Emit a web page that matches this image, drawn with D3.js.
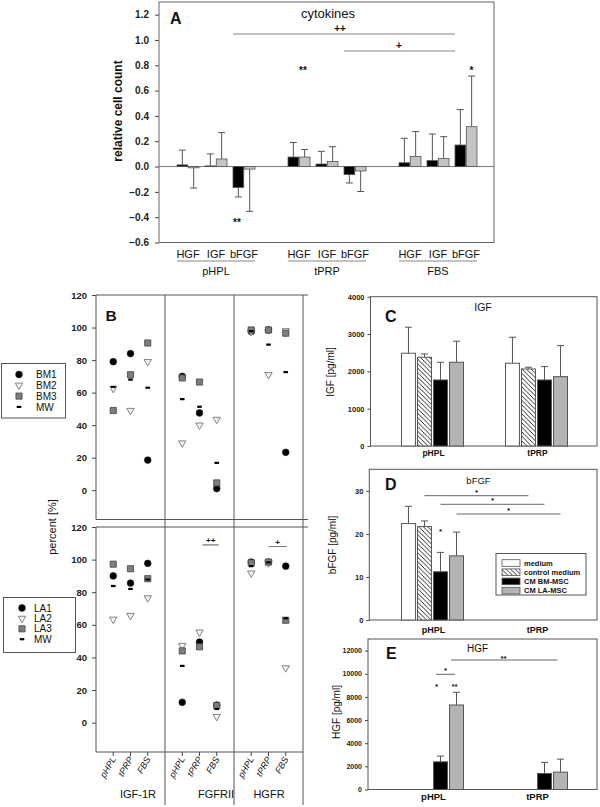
<!DOCTYPE html>
<html><head><meta charset="utf-8">
<script src="https://cdn.jsdelivr.net/npm/d3@7/dist/d3.min.js"></script>
<style>body{margin:0;background:#fff} svg{display:block}</style>
</head><body><svg id="c" width="600" height="807"></svg>
<script>
// ---------------- DATA ----------------
// Panel A: relative cell count
const mediaA = ["pHPL", "tPRP", "FBS"];
const cytokinesA = ["HGF", "IGF", "bFGF"];
const seriesA = ["BM", "LA"];
const ticksA = [-0.6, -0.4, -0.2, 0, 0.2, 0.4, 0.6, 0.8, 1.0, 1.2];
const meanBM_A = [[0.013, 0.005, -0.165], [0.075, 0.02, -0.063], [0.03, 0.047, 0.17]];
const errBM_A  = [[0.117, 0.095, 0.075], [0.115, 0.10, 0.067], [0.193, 0.21, 0.28]];
const meanLA_A = [[-0.01, 0.06, -0.02], [0.075, 0.04, -0.035], [0.079, 0.063, 0.315]];
const errLA_A  = [[0.16, 0.208, 0.334], [0.06, 0.117, 0.162], [0.197, 0.173, 0.40]];

// Panel B: percent
const receptors = ["IGF-1R", "FGFRII", "HGFR"];
const mediaB = ["pHPL", "tPRP", "FBS"];
const ticksB = [0, 20, 40, 60, 80, 100, 120];
const BM1 = [[79, 84, 18.5], [70, 47.5, 1], [97.5, 98.5, 23.3]];
const BM2 = [[62.5, 49, 79], [29, 40, 43.5], [97.5, 71, 98]];
const BM3 = [[49, 71, 90.5], [69, 66.5, 4.5], [98.5, 98.5, 96.5]];
const BM_MW = [[63.5, 68, 63], [56, 51.3, 16.8], [97.8, 89.5, 72.6]];
const LA1 = [[90, 85.6, 97.7], [12.5, 49.4, 10.8], [98.5, 98.5, 96]];
const LA2 = [[63.4, 65.7, 76.5], [47.3, 55.5, 3.7], [91.7, 98, 33.6]];
const LA3 = [[97.2, 94.4, 88.3], [44, 46.5, 10.5], [98, 98.5, 62.8]];
const LA_MW = [[83.8, 82, 87.8], [34.8, 50.5, 8.4], [96, 98.3, 64]];

// Panels C, D, E
const groupsCDE = ["pHPL", "tPRP"];
const conditions = ["medium", "control medium", "CM BM-MSC", "CM LA-MSC"];
const ticksC = [0, 1000, 2000, 3000, 4000];
const igfMean = [[2485, 2378, 1769, 2244], [2217, 2064, 1769, 1858]];
const igfErr  = [[697, 88, 475, 563], [697, 46, 358, 832]];
const ticksD = [0, 10, 20, 30];
const bfgfMean = [[22.4, 21.7, 11.2, 14.9], [null, null, null, null]];
const bfgfErr  = [[4.0, 1.3, 4.5, 5.5], [null, null, null, null]];
const ticksE = [0, 2000, 4000, 6000, 8000, 10000, 12000];
const hgfMean = [[null, null, 2390, 7299], [null, null, 1385, 1500]];
const hgfErr  = [[null, null, 493, 1099], [null, null, 953, 1123]];

// ---------------- DRAWING ----------------
const FONT = '"Liberation Sans", Arial, Helvetica, sans-serif';
const svg = d3.select("#c");
const defs = svg.append("defs");
const pat = defs.append("pattern").attr("id", "hatch").attr("patternUnits", "userSpaceOnUse")
  .attr("width", 4.5).attr("height", 4.5);
pat.append("rect").attr("width", 4.5).attr("height", 4.5).attr("fill", "#fff");
pat.append("path").attr("d", "M-1,-1 L5.5,5.5 M-1,3.5 L1,5.5 M3.5,-1 L5.5,1")
  .attr("stroke", "#111").attr("stroke-width", 0.9);

function txt(g, x, y, s, size, opts = {}) {
  return g.append("text").attr("x", x).attr("y", y).text(s)
    .attr("font-family", FONT).attr("font-size", size)
    .attr("font-weight", opts.bold ? "bold" : "normal")
    .attr("font-style", opts.italic ? "italic" : "normal")
    .attr("text-anchor", opts.anchor || "start")
    .attr("fill", opts.fill || "#111");
}
function line(g, x1, y1, x2, y2, color = "#555", w = 1) {
  return g.append("line").attr("x1", x1).attr("y1", y1).attr("x2", x2).attr("y2", y2)
    .attr("stroke", color).attr("stroke-width", w);
}
function styleAxis(g, size, bold) {
  g.select(".domain").remove();
  g.attr("font-family", FONT);
  g.selectAll(".tick line").attr("stroke", "#444");
  g.selectAll(".tick text").attr("font-size", size).attr("font-weight", bold ? "bold" : "normal").attr("fill", "#222");
}

// ======== Panel A ========
{
  const g = svg.append("g");
  const L = 159, R = 494, T = 2, B = 242.5;
  const y = d3.scaleLinear().domain([-0.6, 1.3]).range([B, T]);
  const xm = d3.scalePoint().domain(mediaA).range([216, 438]);
  const xc = d3.scalePoint().domain(cytokinesA).range([-28, 28]);
  const xs = d3.scaleBand().domain(seriesA).range([-11, 11]).paddingInner(0.05);
  const ax = g.append("g").attr("transform", `translate(${L},0)`)
    .call(d3.axisLeft(y).tickValues(ticksA).tickFormat(d3.format(".1f")).tickSize(4).tickPadding(6));
  styleAxis(ax, 10, true);
  g.append("rect").attr("x", L).attr("y", T).attr("width", R - L).attr("height", B - T)
    .attr("fill", "none").attr("stroke", "#666");
  line(g, L, y(0), R, y(0), "#777");
  const bars = [];
  mediaA.forEach((m, i) => cytokinesA.forEach((c, j) => {
    bars.push({m, c, s: "BM", v: meanBM_A[i][j], e: errBM_A[i][j]});
    bars.push({m, c, s: "LA", v: meanLA_A[i][j], e: errLA_A[i][j]});
  }));
  bars.forEach(d => {
    const x0 = xm(d.m) + xc(d.c) + xs(d.s), w = xs.bandwidth(), cx = x0 + w / 2;
    const sgn = d.v < 0 ? -1 : 1;
    const yTip = y(d.v + sgn * d.e);
    line(g, cx, y(d.v), cx, yTip, "#555");
    line(g, cx - 3.5, yTip, cx + 3.5, yTip, "#555");
    g.append("rect").attr("x", x0).attr("y", Math.min(y(d.v), y(0))).attr("width", w)
      .attr("height", Math.abs(y(d.v) - y(0)))
      .attr("fill", d.s === "BM" ? "#000" : "#c4c4c4").attr("stroke", "#555").attr("stroke-width", 0.8);
  });
  // significance
  line(g, 233, 34, 455, 34, "#888");
  txt(g, 340, 31.5, "++", 10, {anchor: "middle", bold: true});
  line(g, 344, 51, 455, 51, "#888");
  txt(g, 399, 48.5, "+", 10, {anchor: "middle", bold: true});
  txt(g, xm("pHPL") + xc("bFGF") - 7, 226, "**", 10, {anchor: "middle", bold: true});
  txt(g, xm("tPRP") + xc("HGF") + 4, 74, "**", 10, {anchor: "middle", bold: true});
  txt(g, xm("FBS") + xc("bFGF") + 5.5, 74, "*", 10, {anchor: "middle", bold: true});
  // labels
  mediaA.forEach(m => {
    cytokinesA.forEach(c => txt(g, xm(m) + xc(c), 258, c, 11, {anchor: "middle"}));
    line(g, xm(m) + xc("HGF") - 11, 261, xm(m) + xc("bFGF") + 11, 261, "#888");
    txt(g, xm(m), 275, m, 11, {anchor: "middle"});
  });
  txt(g, 170, 23.5, "A", 16, {bold: true});
  txt(g, 328, 17.5, "cytokines", 13, {anchor: "middle"});
  txt(g, 0, 0, "relative cell count", 12, {anchor: "middle", bold: true})
    .attr("transform", "translate(122,111) rotate(-90)");
}

// ======== Panel B ========
{
  const g = svg.append("g");
  const L = 96, R = 303;
  const xr = d3.scaleBand().domain(receptors).range([L, R]);
  const xmB = d3.scalePoint().domain(mediaB).range([0, xr.bandwidth()]).padding(1);
  const subs = [
    {T: 295, B: 519.5, sets: [BM1, BM2, BM3, BM_MW], names: ["BM1", "BM2", "BM3", "MW"]},
    {T: 527, B: 752, sets: [LA1, LA2, LA3, LA_MW], names: ["LA1", "LA2", "LA3", "MW"]}
  ];
  const sym = {
    0: (sel) => sel.append("path").attr("d", d3.symbol(d3.symbolCircle, 36)()).attr("fill", "#000").attr("stroke", "#222").attr("stroke-width", 0.6),
    1: (sel) => sel.append("path").attr("d", d3.symbol(d3.symbolTriangle, 24)()).attr("transform", "rotate(180)")
                 .attr("fill", "#f2f2f2").attr("stroke", "#777").attr("stroke-width", 0.9),
    2: (sel) => sel.append("path").attr("d", d3.symbol(d3.symbolSquare, 38)()).attr("fill", "#7d7d7d").attr("stroke", "#444").attr("stroke-width", 0.8),
    3: (sel) => sel.append("rect").attr("x", -2.3).attr("y", -1.1).attr("width", 4.6).attr("height", 2.2).attr("fill", "#000")
  };
  subs.forEach((s, k) => {
    const y = d3.scaleLinear().domain([-18, 120]).range([s.B, s.T]);
    const ax = g.append("g").attr("transform", `translate(${L},0)`)
      .call(d3.axisLeft(y).tickValues(ticksB).tickSize(4).tickPadding(5));
    styleAxis(ax, 9.5, true);
    line(g, L, s.T, 308, s.T, "#555");
    line(g, L, s.B, k === 0 ? 308 : R, s.B, "#555");
    line(g, L, s.T, L, s.B, "#555");
    s.sets.forEach((set, si) => {
      receptors.forEach((r, ri) => mediaB.forEach((m, mi) => {
        const pg = g.append("g").attr("transform", `translate(${xr(r) + xmB(m)},${y(set[ri][mi])})`);
        sym[si](pg);
      }));
    });
    // legend
    const lg = k === 0 ? {x: 1.5, y: 363.5, w: 64, h: 54.5, sx: 19, tx: 36, r0: 374.5, dr: 10.8}
                       : {x: 3.5, y: 597.5, w: 72, h: 55, sx: 22, tx: 34, r0: 608, dr: 10.4};
    g.append("rect").attr("x", lg.x).attr("y", lg.y).attr("width", lg.w).attr("height", lg.h)
      .attr("fill", "#fff").attr("stroke", "#555");
    s.names.forEach((n, i) => {
      const pg = g.append("g").attr("transform", `translate(${lg.sx},${lg.r0 + i * lg.dr})`);
      sym[i](pg);
      txt(g, lg.tx, lg.r0 + i * lg.dr + 3.6, n, 10);
    });
  });
  // dividers
  receptors.slice(1).forEach(r => line(g, xr(r), 295, xr(r), 805, "#555"));
  line(g, R, 295, R, 805, "#555");
  // x ticks & labels (bottom)
  receptors.forEach((r, ri) => {
    mediaB.forEach(m => {
      const x = xr(r) + xmB(m);
      line(g, x, 752, x, 756, "#444");
      txt(g, 0, 0, m, 9, {italic: true, anchor: "end"})
        .attr("transform", `translate(${x + 3},${759}) rotate(-60)`);
    });
  });
  const secOff = [42, 51, 35];
  receptors.forEach((r, ri) => txt(g, xr(r) + secOff[ri], 798, r, 11, {anchor: "middle"}));
  // significance in bottom subplot
  const yb = d3.scaleLinear().domain([-18, 120]).range([752, 527]);
  line(g, xr("FGFRII") + xmB("tPRP") + 3, yb(109), xr("FGFRII") + xmB("FBS") + 2, yb(109), "#555");
  txt(g, xr("FGFRII") + (xmB("tPRP") + xmB("FBS")) / 2 + 2.5, yb(109) - 1.5, "++", 8, {anchor: "middle", bold: true});
  line(g, xr("HGFR") + xmB("tPRP"), yb(108), xr("HGFR") + xmB("FBS") + 1, yb(108), "#777");
  txt(g, xr("HGFR") + (xmB("tPRP") + xmB("FBS")) / 2 + 0.5, yb(108) - 2, "+", 8, {anchor: "middle", bold: true});
  txt(g, 105.5, 320.7, "B", 15.5, {bold: true});
  txt(g, 0, 0, "percent [%]", 11, {anchor: "middle"}).attr("transform", "translate(56,527) rotate(-90)");
}

// ======== Panels C, D, E ========
const xg = d3.scalePoint().domain(groupsCDE).range([432.5, 536.5]);
const xb = d3.scaleBand().domain(conditions).range([-31, 31]).paddingInner(0.13);
const fillFor = {"medium": "#fff", "control medium": "url(#hatch)", "CM BM-MSC": "#000", "CM LA-MSC": "#b4b4b4"};
const barCx = (gname, c) => xg(gname) + xb(c) + xb.bandwidth() / 2;

function barPanel(cfg) {
  const g = svg.append("g");
  const {L, R, T, B} = cfg;
  const y = d3.scaleLinear().domain(cfg.domain).range([B, T]);
  const ax = g.append("g").attr("transform", `translate(${L},0)`)
    .call(d3.axisLeft(y).tickValues(cfg.ticks).tickFormat(d3.format("d")).tickSize(3).tickPadding(3));
  styleAxis(ax, cfg.tickSize, true);
  g.append("rect").attr("x", L).attr("y", T).attr("width", R - L).attr("height", B - T)
    .attr("fill", "none").attr("stroke", "#555");
  groupsCDE.forEach((gn, gi) => conditions.forEach((c, ci) => {
    const v = cfg.mean[gi][ci];
    if (v == null) return;
    const e = cfg.err[gi][ci];
    const cx = barCx(gn, c);
    line(g, cx, y(v), cx, y(v + e), "#555");
    line(g, cx - 3.5, y(v + e), cx + 3.5, y(v + e), "#555");
    g.append("rect").attr("x", xg(gn) + xb(c)).attr("y", y(v)).attr("width", xb.bandwidth())
      .attr("height", y(0) - y(v)).attr("fill", fillFor[c]).attr("stroke", "#555").attr("stroke-width", 1);
  }));
  groupsCDE.forEach(gn => txt(g, xg(gn) + 1, cfg.xLabY, gn, cfg.xLabSize, {anchor: "middle", bold: true}));
  txt(g, cfg.letterX, cfg.letterY, cfg.letter, 16, {bold: true});
  txt(g, cfg.titleX, cfg.titleY, cfg.title, cfg.titleSize, {anchor: "middle"});
  txt(g, 0, 0, cfg.yLabel, 10, {anchor: "middle"}).attr("transform", `translate(${cfg.yLabX},${cfg.yLabY}) rotate(-90)`);
  return {g, y};
}

barPanel({L: 370.5, R: 597, T: 296.7, B: 446, domain: [0, 4000], ticks: ticksC, tickSize: 7.5,
  mean: igfMean, err: igfErr, xLabY: 456, xLabSize: 8.5, letter: "C", letterX: 385, letterY: 321.5,
  title: "IGF", titleX: 483, titleY: 310.7, titleSize: 10.5, yLabel: "IGF [pg/ml]", yLabX: 334, yLabY: 372});

{
  const {g, y} = barPanel({L: 369.3, R: 597, T: 469.3, B: 620, domain: [0, 35], ticks: ticksD, tickSize: 7.5,
    mean: bfgfMean, err: bfgfErr, xLabY: 633, xLabSize: 9, letter: "D", letterX: 385, letterY: 490,
    title: "bFGF", titleX: 478.5, titleY: 484, titleSize: 9.5, yLabel: "bFGF [pg/ml]", yLabX: 336, yLabY: 545});
  const sigY = [495.7, 504.3, 514];
  conditions.slice(1).forEach((c, i) => {
    const a = barCx("pHPL", c), b = barCx("tPRP", c);
    line(g, a, sigY[i], b, sigY[i], "#666");
    txt(g, (a + b) / 2, sigY[i] - 1.2, "*", 8, {anchor: "middle", bold: true});
  });
  txt(g, barCx("pHPL", "CM BM-MSC"), 534, "*", 8, {anchor: "middle", bold: true});
  // legend
  g.append("rect").attr("x", 496).attr("y", 553.5).attr("width", 90).attr("height", 41.5)
    .attr("fill", "#fff").attr("stroke", "#555");
  conditions.forEach((c, i) => {
    const ry = 563 + i * 9.2;
    g.append("rect").attr("x", 502).attr("y", ry - 3.3).attr("width", 18).attr("height", 6.6)
      .attr("fill", fillFor[c]).attr("stroke", "#555").attr("stroke-width", 0.8);
    txt(g, 524, ry + 2.8, c, 7.5, {bold: true});
  });
}

{
  const {g, y} = barPanel({L: 368, R: 597, T: 639, B: 789.5, domain: [0, 13000], ticks: ticksE, tickSize: 7,
    mean: hgfMean, err: hgfErr, xLabY: 800, xLabSize: 9.5, letter: "E", letterX: 386, letterY: 659,
    title: "HGF", titleX: 477.5, titleY: 652, titleSize: 10, yLabel: "HGF [pg/ml]", yLabX: 340, yLabY: 712});
  const bk = barCx("pHPL", "CM BM-MSC"), gr = barCx("pHPL", "CM LA-MSC");
  line(g, bk - 4.5, 674.3, gr - 1.5, 674.3, "#666");
  txt(g, (bk + gr) / 2 - 3, 673, "*", 8, {anchor: "middle", bold: true});
  txt(g, bk - 4, 689, "*", 8, {anchor: "middle", bold: true});
  txt(g, gr - 2, 689, "**", 8, {anchor: "middle", bold: true});
  const gr2 = barCx("tPRP", "CM LA-MSC");
  line(g, gr - 5.5, 660, gr2 - 3, 660, "#666");
  txt(g, 503.5, 661, "**", 8, {anchor: "middle", bold: true});
}
</script></body></html>
